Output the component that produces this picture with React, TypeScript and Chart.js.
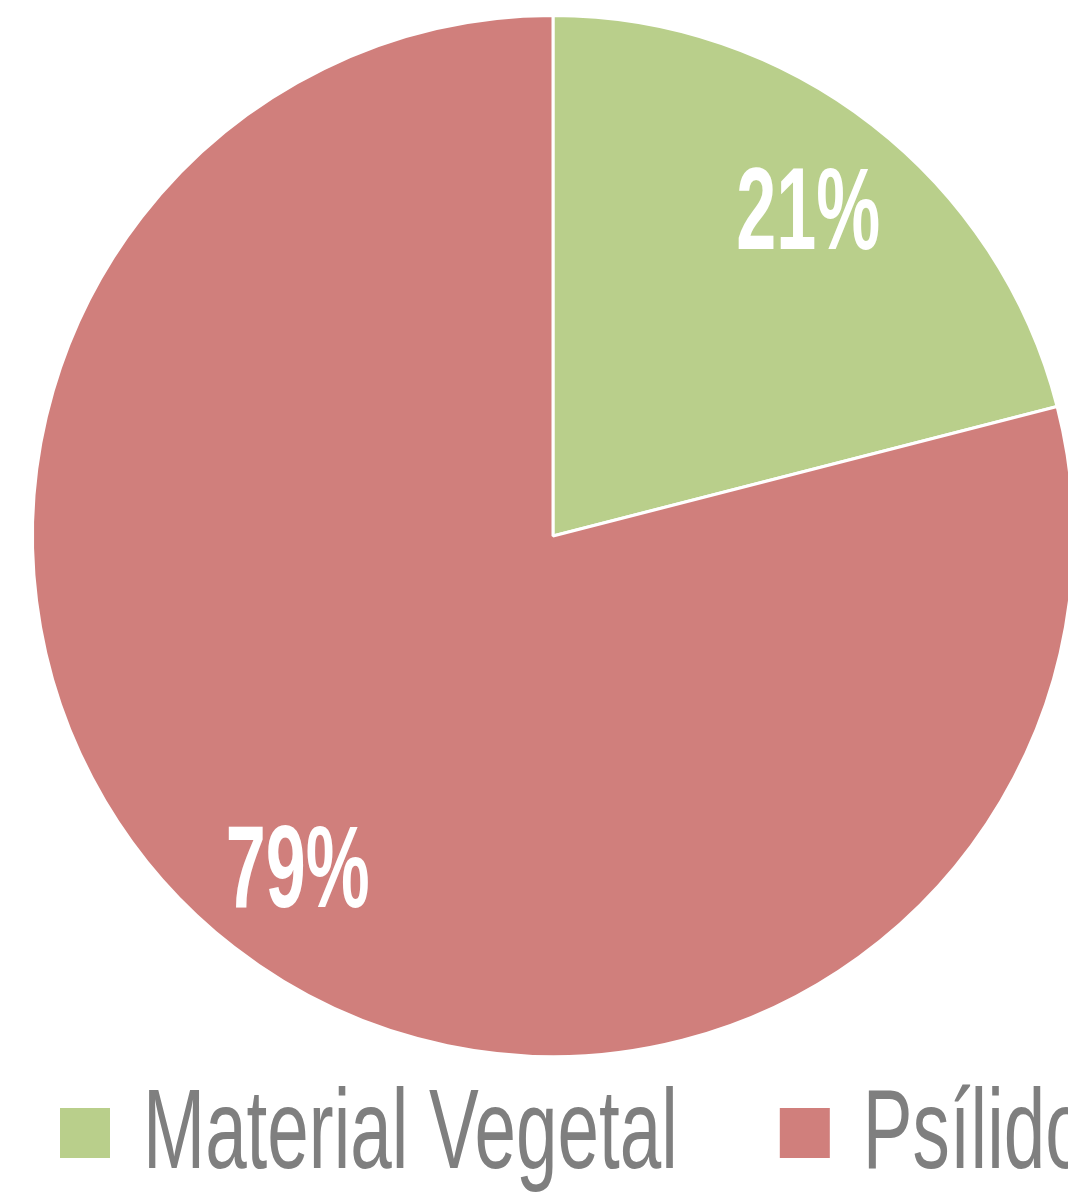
import React, { useEffect, useRef } from "react";
import { Chart, registerables } from "chart.js";

Chart.register(...registerables);

// ---- data ----
const categories: string[] = ["Material Vegetal", "Psílido"];
const values: number[] = [21, 79];
const percentLabels: string[] = ["21%", "79%"];
const sliceColors: string[] = ["#B9CF8B", "#D07F7C"];

const FONT_FAMILY = "'Liberation Sans', Arial, sans-serif";
const LABEL_CONDENSE = 0.62; // horizontal squeeze to mimic a condensed typeface
const LEGEND_CONDENSE = 0.66;

const pctLabelPlugin = {
  id: "pctLabels",
  afterDatasetsDraw(chart: any) {
    const ctx = chart.ctx as CanvasRenderingContext2D;
    const meta = chart.getDatasetMeta(0);
    const size = 116;
    meta.data.forEach((arc: any, i: number) => {
      const p = arc.getProps(["x", "y", "startAngle", "endAngle", "outerRadius"], true);
      const mid = (p.startAngle + p.endAngle) / 2;
      const r = p.outerRadius * 0.8;
      const px = p.x + Math.cos(mid) * r;
      const py = p.y + Math.sin(mid) * r;
      ctx.save();
      ctx.translate(px, py + size * 0.716 / 2);
      ctx.scale(LABEL_CONDENSE, 1);
      ctx.font = `bold ${size}px ${FONT_FAMILY}`;
      ctx.fillStyle = "#FFFFFF";
      ctx.textAlign = "center";
      ctx.textBaseline = "alphabetic";
      ctx.fillText(percentLabels[i], 0, 0);
      ctx.restore();
    });
  },
};

const legendPlugin = {
  id: "condensedLegend",
  afterDraw(chart: any) {
    const ctx = chart.ctx as CanvasRenderingContext2D;
    const area = chart.chartArea;
    const size = 113;
    const box = 50;
    const boxTop = area.bottom + 50;
    const baseline = area.bottom + 110;
    const boxGap = 33;
    const itemGap = 102;
    let x = 60;
    ctx.save();
    ctx.font = `${size}px ${FONT_FAMILY}`;
    categories.forEach((label, i) => {
      ctx.fillStyle = sliceColors[i];
      ctx.fillRect(x, boxTop, box, box);
      const tx = x + box + boxGap;
      const w = ctx.measureText(label).width * LEGEND_CONDENSE;
      ctx.save();
      ctx.translate(tx, baseline);
      ctx.scale(LEGEND_CONDENSE, 1);
      ctx.fillStyle = "#7F7F7F";
      ctx.textAlign = "left";
      ctx.textBaseline = "alphabetic";
      ctx.fillText(label, 0, 0);
      ctx.restore();
      x = tx + w + itemGap;
    });
    ctx.restore();
  },
};

export default function App() {
  const canvasRef = useRef<HTMLCanvasElement | null>(null);

  useEffect(() => {
    if (!canvasRef.current) return;
    const chart = new Chart(canvasRef.current, {
      type: "pie",
      data: {
        labels: categories,
        datasets: [
          {
            data: values,
            backgroundColor: sliceColors,
            borderColor: "#FFFFFF",
            borderWidth: 3,
          },
        ],
      },
      options: {
        responsive: false,
        animation: false,
        layout: { padding: { left: 31, right: 31, top: 14, bottom: 142 } },
        plugins: {
          legend: { display: false },
          tooltip: { enabled: false },
        },
      },
      plugins: [pctLabelPlugin, legendPlugin],
    });
    return () => chart.destroy();
  }, []);

  return (
    <div
      style={{
        position: "absolute",
        left: 0,
        top: 0,
        width: 1068,
        height: 1200,
        overflow: "hidden",
        background: "#FFFFFF",
      }}
    >
      <canvas ref={canvasRef} width={1106} height={1200} style={{ display: "block" }} />
    </div>
  );
}
